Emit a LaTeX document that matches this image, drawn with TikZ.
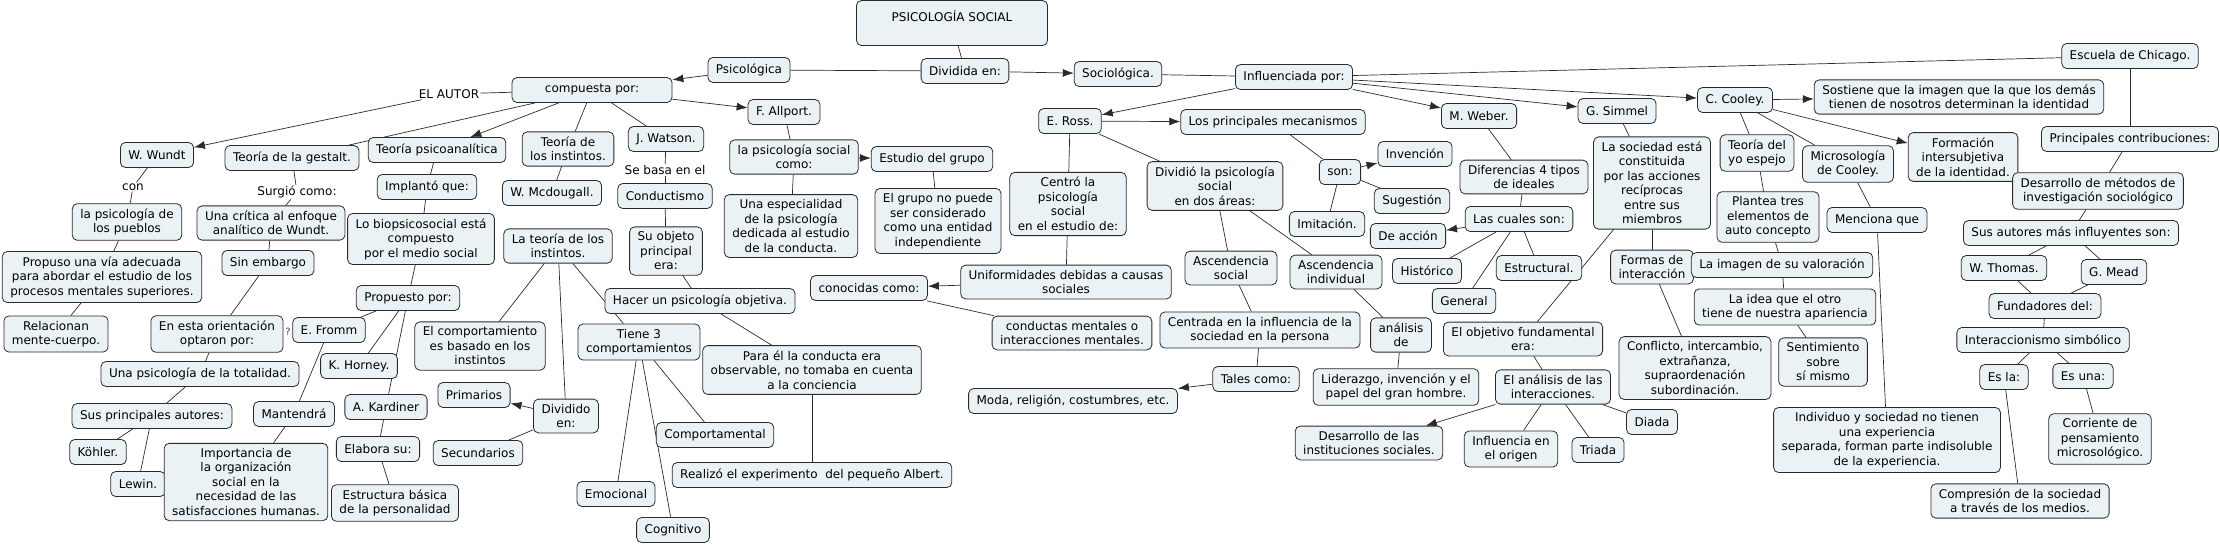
\documentclass[tikz,border=0pt]{standalone}
\usepackage{fontspec}
\setmainfont{DejaVu Sans}
\usetikzlibrary{arrows.meta,backgrounds}
\definecolor{boxfill}{HTML}{EBF2F5}
\definecolor{edgegray}{HTML}{2A2A2A}
\tikzset{
  box/.style={draw=edgegray, fill=boxfill, rounded corners=5pt, line width=0.8pt, align=center,
    inner xsep=8pt, inner ysep=5pt, minimum height=25pt, font=\fontsize{12}{14.5}\selectfont},
  lbl/.style={inner sep=1pt, font=\fontsize{12}{14.5}\selectfont},
  link/.style={draw=edgegray, line width=0.7pt},
  arr/.style={link, -{Latex[length=11pt,width=8pt]}},
}
\begin{document}
\begin{tikzpicture}[x=1pt,y=-1pt]
\useasboundingbox (0,0) rectangle (2220,547);
% centre
\node (ps) at (952,23) [box, minimum width=191pt, minimum height=45pt] {PSICOLOGÍA SOCIAL\\ ~};
\node (div) at (965,71) [box] {Dividida en:};
\node (psi) at (749,70) [box] {Psicológica};
\node (soc) at (1118,74) [box] {Sociológica.};
\node (inf) at (1294,77) [box] {Influenciada por:};
% psicologica
\node (comp) at (592,90) [box, minimum width=160pt] {compuesta por:};
\node (autor) at (449,94) [lbl] {EL AUTOR};
\node (wundt) at (157,155) [box] {W. Wundt};
\node (con) at (133,187) [lbl] {con};
\node (pueb) at (127,222) [box] {la psicología de\\los pueblos};
\node (prop) at (102,277) [box] {Propuso una vía adecuada\\para abordar el estudio de los\\procesos mentales superiores.};
\node (rel) at (56,334) [box] {Relacionan\\mente-cuerpo.};
\node (gest) at (292,158) [box] {Teoría de la gestalt.};
\node (surg) at (297,192) [lbl] {Surgió como:};
\node (crit) at (271,223) [box] {Una crítica al enfoque\\analítico de Wundt.};
\node (sinemb) at (268,263) [box] {Sin embargo};
\node (orient) at (217,334) [box] {En esta orientación\\optaron por:};
\node (total) at (200,374) [box] {Una psicología de la totalidad.};
\node (autores) at (152,416) [box] {Sus principales autores:};
\node (kohler) at (98,452) [box] {Köhler.};
\node (lewin) at (138,484) [box] {Lewin.};
\node (qm) at (288,332) [lbl, font=\fontsize{10}{12}\selectfont, text=black!70] {?};
\node (psa) at (437,150) [box] {Teoría psicoanalítica};
\node (impl) at (427,187) [box] {Implantó que:};
\node (biop) at (421,239) [box] {Lo biopsicosocial está\\compuesto\\por el medio social};
\node (propu) at (408,298) [box] {Propuesto por:};
\node (fromm) at (329,330) [box] {E. Fromm};
\node (horney) at (359,366) [box] {K. Horney.};
\node (kard) at (386,407) [box] {A. Kardiner};
\node (mant) at (294,414) [box] {Mantendrá};
\node (imp) at (246,482) [box] {Importancia de\\la organización\\social en la\\necesidad de las\\satisfacciones humanas.};
\node (elab) at (378,449) [box] {Elabora su:};
\node (estr) at (395,503) [box] {Estructura básica\\de la personalidad};
\node (tinst) at (568,149) [box] {Teoría de\\los instintos.};
\node (mcd) at (552,193) [box] {W. Mcdougall.};
\node (watson) at (666,139) [box] {J. Watson.};
\node (basa) at (665,170) [lbl] {Se basa en el};
\node (cond) at (665,196) [box] {Conductismo};
\node (obj) at (666,251) [box] {Su objeto\\principal\\era:};
\node (lti) at (558,246) [box] {La teoría de los\\instintos.};
\node (hacer) at (700,301) [box] {Hacer un psicología objetiva.};
\node (tiene) at (639,342) [box] {Tiene 3\\comportamientos};
\node (ecomp) at (480,346) [box] {El comportamiento\\es basado en los\\instintos};
\node (prim) at (474,395) [box] {Primarios};
\node (divid) at (566,416) [box] {Dividido\\en:};
\node (sec) at (478,453) [box] {Secundarios};
\node (emoc) at (616,494) [box] {Emocional};
\node (cogn) at (673,530) [box] {Cognitivo};
\node (comptal) at (715,435) [box] {Comportamental};
\node (para) at (812,370) [box] {Para él la conducta era\\observable, no tomaba en cuenta\\a la conciencia};
\node (albert) at (812,475) [box] {Realizó el experimento \ del pequeño Albert.};
\node (allp) at (784,112) [box] {F. Allport.};
\node (psc) at (794,157) [box] {la psicología social\\como:};
\node (espec) at (791,226) [box] {Una especialidad\\de la psicología\\dedicada al estudio\\de la conducta.};
\node (grupo) at (932,159) [box] {Estudio del grupo};
\node (grno) at (938,221) [box] {El grupo no puede\\ser considerado\\como una entidad\\independiente};
% sociologica
\node (conoc) at (869,288) [box] {conocidas como:};
\node (unif) at (1066,282) [box] {Uniformidades debidas a causas\\sociales};
\node (condm) at (1072,333) [box] {conductas mentales o\\interacciones mentales.};
\node (centro) at (1068,204) [box] {Centró la\\psicología\\social\\en el estudio de:};
\node (ross) at (1070,121) [box] {E. Ross.};
\node (dividio) at (1215,186) [box] {Dividió la psicología\\social\\en dos áreas:};
\node (mec) at (1273,122) [box] {Los principales mecanismos};
\node (son) at (1340,172) [box] {son:};
\node (inv) at (1415,154) [box] {Invención};
\node (sug) at (1412,201) [box] {Sugestión};
\node (imit) at (1327,224) [box] {Imitación.};
\node (ascs) at (1231,268) [box] {Ascendencia\\social};
\node (asci) at (1336,272) [box] {Ascendencia\\individual};
\node (centr) at (1260,330) [box] {Centrada en la influencia de la\\sociedad en la persona};
\node (tales) at (1256,379) [box] {Tales como:};
\node (moda) at (1073,401) [box] {Moda, religión, costumbres, etc.};
\node (anal) at (1401,335) [box] {análisis\\de};
\node (lider) at (1396,387) [box] {Liderazgo, invención y el\\papel del gran hombre.};
\node (weber) at (1479,116) [box] {M. Weber.};
\node (dif) at (1524,177) [box] {Diferencias 4 tipos\\de ideales};
\node (cual) at (1519,219) [box] {Las cuales son:};
\node (acc) at (1408,236) [box] {De acción};
\node (hist) at (1427,271) [box] {Histórico};
\node (gen) at (1464,301) [box] {General};
\node (estru) at (1539,268) [box] {Estructural.};
\node (simm) at (1617,111) [box] {G. Simmel};
\node (socest) at (1652,183) [box] {La sociedad está\\constituida\\por las acciones\\recíprocas\\entre sus\\miembros};
\node (objf) at (1523,339) [box] {El objetivo fundamental\\era:};
\node (ainter) at (1553,387) [box] {El análisis de las\\interacciones.};
\node (desins) at (1369,443) [box] {Desarrollo de las\\instituciones sociales.};
\node (origen) at (1511,449) [box] {Influencia en\\el origen};
\node (triada) at (1598,450) [box] {Triada};
\node (diada) at (1652,422) [box] {Diada};
\node (formas) at (1652,267) [box] {Formas de\\interacción};
\node (confl) at (1695,368) [box] {Conflicto, intercambio,\\extrañanza,\\supraordenación\\subordinación.};
\node (cooley) at (1735,100) [box] {C. Cooley.};
\node (sost) at (1959,97) [box] {Sostiene que la imagen que la que los demás\\tienen de nosotros determinan la identidad};
\node (form) at (1963,157) [box] {Formación\\intersubjetiva\\de la identidad.};
\node (espejo) at (1757,153) [box] {Teoría del\\yo espejo};
\node (micro) at (1848,164) [box] {Microsología\\de Cooley.};
\node (plant) at (1768,217) [box] {Plantea tres\\elementos de\\auto concepto};
\node (imag) at (1782,265) [box] {La imagen de su valoración};
\node (idea) at (1785,307) [box] {La idea que el otro\\tiene de nuestra apariencia};
\node (sent) at (1823,362) [box] {Sentimiento\\sobre\\sí mismo};
\node (menc) at (1877,220) [box] {Menciona que};
\node (indiv) at (1887,440) [box] {Individuo y sociedad no tienen\\una experiencia\\separada, forman parte indisoluble\\de la experiencia.};
\node (chic) at (2130,56) [box] {Escuela de Chicago.};
\node (contr) at (2130,139) [box] {Principales contribuciones:};
\node (metod) at (2098,191) [box] {Desarrollo de métodos de\\investigación sociológico};
\node (influy) at (2071,233) [box] {Sus autores más influyentes son:};
\node (thomas) at (2004,268) [box] {W. Thomas.};
\node (mead) at (2114,272) [box] {G. Mead};
\node (fund) at (2045,306) [box] {Fundadores del:};
\node (simb) at (2043,340) [box] {Interaccionismo simbólico};
\node (esla) at (2004,377) [box] {Es la:};
\node (esuna) at (2083,376) [box] {Es una:};
\node (compr) at (2020,501) [box] {Compresión de la sociedad\\a través de los medios.};
\node (corr) at (2100,439) [box] {Corriente de\\pensamiento\\microsológico.};
% links
\begin{pgfonlayer}{background}
\draw[link] (ps) -- (div);
\draw[link] (div) -- (psi);
\draw[arr] (div) -- (soc);
\draw[link] (soc) -- (inf);
\draw[arr] (psi) -- (comp);
\draw[link] (comp) -- (autor);
\draw[arr] (autor) -- (wundt);
\draw[link] (comp) -- (gest);
\draw[arr] (comp) -- (psa);
\draw[link] (comp) -- (tinst);
\draw[link] (comp) -- (watson);
\draw[arr] (comp) -- (allp);
\draw[link] (wundt) -- (con);
\draw[link] (con) -- (pueb);
\draw[link] (pueb) -- (prop);
\draw[link] (prop) -- (rel);
\draw[link] (gest) -- (surg);
\draw[link] (surg) -- (crit);
\draw[link] (crit) -- (sinemb);
\draw[link] (sinemb) -- (orient);
\draw[link] (orient) -- (total);
\draw[link] (total) -- (autores);
\draw[link] (autores) -- (kohler);
\draw[link] (autores) -- (lewin);
\draw[link] (psa) -- (impl);
\draw[link] (impl) -- (biop);
\draw[link] (biop) -- (propu);
\draw[link] (propu) -- (fromm);
\draw[link] (propu) -- (horney);
\draw[link] (propu) -- (kard);
\draw[link] (fromm) -- (mant);
\draw[link] (mant) -- (imp);
\draw[link] (kard) -- (elab);
\draw[link] (elab) -- (estr);
\draw[link] (tinst) -- (mcd);
\draw[link] (watson) -- (basa);
\draw[link] (basa) -- (cond);
\draw[link] (cond) -- (obj);
\draw[link] (obj) -- (hacer);
\draw[link] (hacer) -- (para);
\draw[link] (para) -- (albert);
\draw[link] (lti) -- (ecomp);
\draw[link] (lti) -- (divid);
\draw[link] (lti) -- (tiene);
\draw[arr] (divid) -- (prim);
\draw[link] (divid) -- (sec);
\draw[link] (tiene) -- (emoc);
\draw[link] (tiene) -- (cogn);
\draw[link] (tiene) -- (comptal);
\draw[link] (allp) -- (psc);
\draw[link] (psc) -- (espec);
\draw[arr] (psc) -- (grupo);
\draw[link] (grupo) -- (grno);
\draw[arr] (inf) -- (ross);
\draw[arr] (ross) -- (mec);
\draw[link] (ross) -- (centro);
\draw[link] (ross) -- (dividio);
\draw[link] (centro) -- (unif);
\draw[arr] (unif) -- (conoc);
\draw[link] (conoc) -- (condm);
\draw[link] (mec) -- (son);
\draw[arr] (son) -- (inv);
\draw[link] (son) -- (sug);
\draw[link] (son) -- (imit);
\draw[link] (dividio) -- (ascs);
\draw[link] (dividio) -- (asci);
\draw[link] (ascs) -- (centr);
\draw[link] (centr) -- (tales);
\draw[arr] (tales) -- (moda);
\draw[link] (asci) -- (anal);
\draw[link] (anal) -- (lider);
\draw[arr] (inf) -- (weber);
\draw[arr] (inf) -- (simm);
\draw[arr] (inf) -- (cooley);
\draw[link] (inf) -- (chic);
\draw[link] (weber) -- (dif);
\draw[link] (dif) -- (cual);
\draw[arr] (cual) -- (acc);
\draw[link] (cual) -- (hist);
\draw[link] (cual) -- (gen);
\draw[link] (cual) -- (estru);
\draw[link] (simm) -- (socest);
\draw[link] (socest) -- (objf);
\draw[link] (socest) -- (formas);
\draw[link] (objf) -- (ainter);
\draw[arr] (ainter) -- (desins);
\draw[link] (ainter) -- (origen);
\draw[link] (ainter) -- (triada);
\draw[link] (ainter) -- (diada);
\draw[link] (formas) -- (confl);
\draw[arr] (cooley) -- (sost);
\draw[arr] (cooley) -- (form);
\draw[link] (cooley) -- (espejo);
\draw[link] (cooley) -- (micro);
\draw[link] (espejo) -- (plant);
\draw[link] (plant) -- (imag);
\draw[link] (imag) -- (idea);
\draw[link] (idea) -- (sent);
\draw[link] (micro) -- (menc);
\draw[link] (menc) -- (indiv);
\draw[link] (chic) -- (contr);
\draw[link] (contr) -- (metod);
\draw[link] (metod) -- (influy);
\draw[link] (influy) -- (thomas);
\draw[link] (influy) -- (mead);
\draw[link] (thomas) -- (fund);
\draw[link] (mead) -- (fund);
\draw[link] (fund) -- (simb);
\draw[link] (simb) -- (esla);
\draw[link] (simb) -- (esuna);
\draw[link] (esla) -- (compr);
\draw[link] (esuna) -- (corr);
\end{pgfonlayer}
\end{tikzpicture}
\end{document}
